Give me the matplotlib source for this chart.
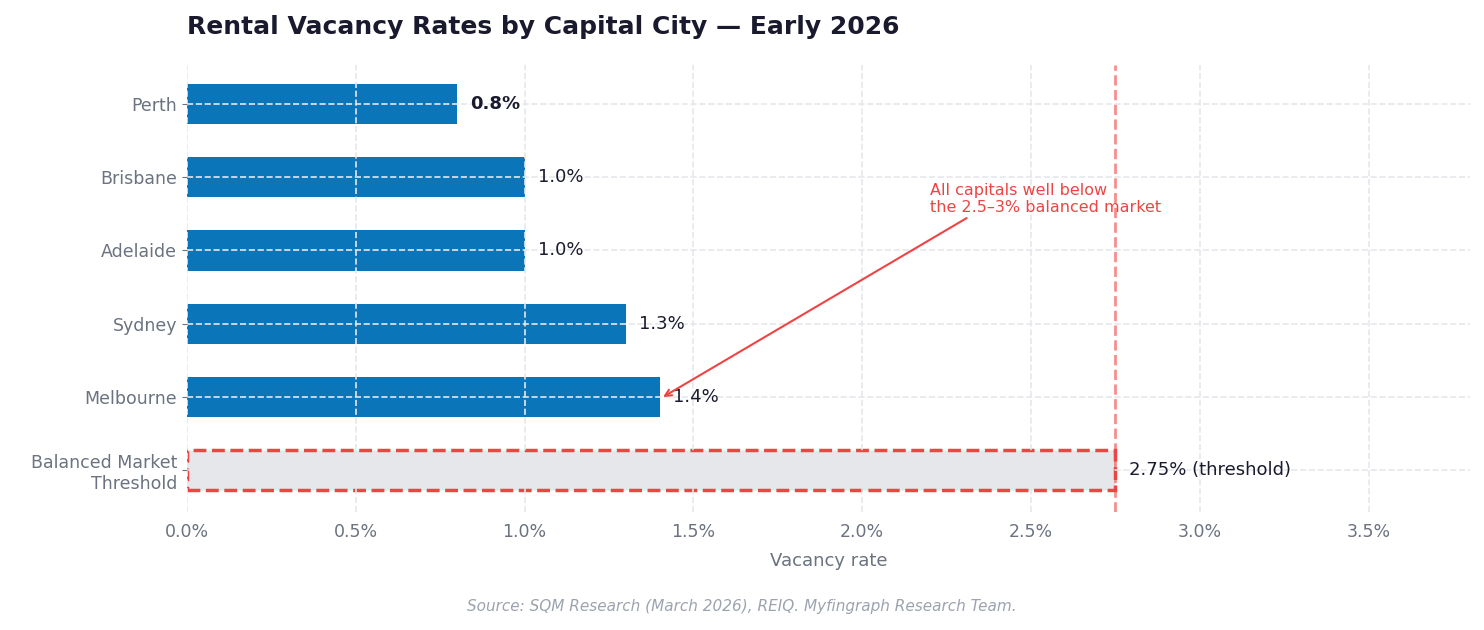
import matplotlib.pyplot as plt

cities = ['Balanced Market\nThreshold', 'Melbourne', 'Sydney', 'Adelaide', 'Brisbane', 'Perth']
rates = [2.75, 1.4, 1.3, 1.0, 1.0, 0.8]
labels = ['2.75% (threshold)', '1.4%', '1.3%', '1.0%', '1.0%', '0.8%']
xticks = [0, 0.5, 1.0, 1.5, 2.0, 2.5, 3.0, 3.5]

fig = plt.figure(figsize=(14.84, 6.3), dpi=100)
ax = fig.add_axes([187/1484, 1 - 512/630, (1470-187)/1484, (512-65)/630])

ys = range(len(cities))
for y, r in zip(ys, rates):
    if y == 0:
        ax.barh(y, r, height=0.55, color='#e5e7eb', edgecolor='#ef4444',
                linestyle='--', linewidth=2.5, zorder=1)
    else:
        ax.barh(y, r, height=0.55, color='#0b75b9', zorder=1)

for y, r, lab in zip(ys, rates, labels):
    ax.text(r + 0.04, y, lab, va='center', ha='left', fontsize=13,
            color='#1a1a2e', fontweight='bold' if y == 5 else 'normal')

ax.axvline(2.75, color='#ef4444', linestyle='--', linewidth=2, alpha=0.6, zorder=2)

ax.annotate('All capitals well below\nthe 2.5–3% balanced market',
            xy=(1.41, 1), xytext=(2.2, 3.7), fontsize=11.5, color='#ef4444',
            ha='left', va='center',
            arrowprops=dict(arrowstyle='->', color='#ef4444', lw=1.5,
                            shrinkA=0, shrinkB=0, relpos=(0.18, 0)))

ax.set_xlim(0, 3.8)
ax.set_ylim(-0.57, 5.53)
ax.set_yticks(list(ys))
ax.set_yticklabels(cities)
ax.set_xticks(xticks)
ax.set_xticklabels([f'{v:.1f}%' for v in xticks])
ax.tick_params(axis='both', labelsize=12.5, colors='#6b7280')
ax.tick_params(axis='x', length=0, pad=8)
ax.set_xlabel('Vacancy rate', fontsize=13, color='#6b7280', labelpad=8)

ax.grid(True, linestyle='--', color='#e5e7eb', linewidth=1.2, zorder=3)
ax.set_axisbelow(False)
for s in ax.spines.values():
    s.set_visible(False)

fig.text(187/1484, 1 - 27/630, 'Rental Vacancy Rates by Capital City — Early 2026',
         fontsize=18, fontweight='bold', color='#1a1a2e', va='center', ha='left')
fig.text(0.5, 1 - 607/630, 'Source: SQM Research (March 2026), REIQ. Myfingraph Research Team.',
         fontsize=11, style='italic', color='#9ca3af', ha='center', va='center')

fig.savefig('out.png', dpi=100)
